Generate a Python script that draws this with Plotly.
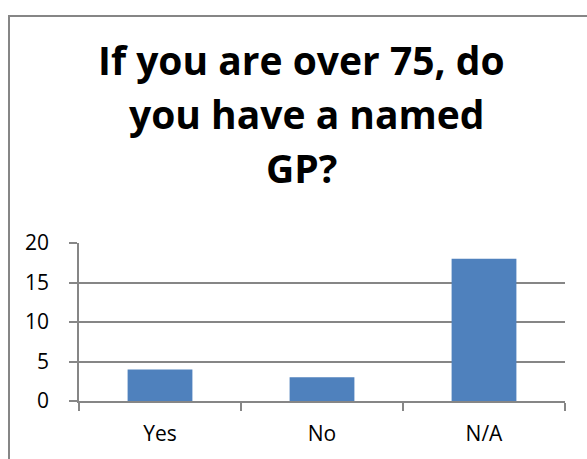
import plotly.graph_objects as go

categories = ["Yes", "No", "N/A"]
values = [4, 3, 18]
y_ticks = [0, 5, 10, 15, 20]
title_lines = ["If you are over 75, do", "you have a named", "GP?"]

W, H = 587, 459
L, R, T, B = 79, 22, 243, 56
pw, ph = W - L - R, H - T - B

def px_x(x):
    return (x - L) / pw

def px_y(y):
    return (H - B - y) / ph

fig = go.Figure(go.Bar(x=categories, y=values, marker=dict(color="#4F81BD", line=dict(width=0))))

grid = "#868686"
title_font = dict(family="Open Sans", size=39, color="black", weight="bold")
title_centers = [(301, 57), (307, 112), (301, 167)]
annotations = []
for line, (cx, cy) in zip(title_lines, title_centers):
    annotations.append(dict(text=line, x=px_x(cx), y=px_y(cy), xref="paper", yref="paper",
                            xanchor="center", yanchor="middle", showarrow=False, font=title_font))

fig.update_layout(
    width=W, height=H,
    margin=dict(l=L, r=R, t=T, b=B, pad=0),
    paper_bgcolor="white", plot_bgcolor="white",
    bargap=0.6,
    showlegend=False,
    annotations=annotations,
    font=dict(family="Open Sans", size=21, color="black"),
    shapes=[dict(type="rect", xref="paper", yref="paper", x0=px_x(9), y0=-1, x1=2, y1=px_y(13),
                 line=dict(color=grid, width=2), fillcolor="rgba(0,0,0,0)", layer="above")],
    xaxis=dict(showline=True, linecolor=grid, linewidth=1.5, ticks="outside", tickson="boundaries",
               ticklen=8, tickcolor=grid, tickwidth=1.5, showgrid=False, ticklabelstandoff=13,
               fixedrange=True),
    yaxis=dict(range=[0, 20], tickvals=y_ticks, showline=True, linecolor=grid, linewidth=1.5,
               ticks="outside", ticklen=8, tickcolor=grid, tickwidth=1.5, showgrid=True,
               gridcolor=grid, gridwidth=1.5, zeroline=False, ticklabelstandoff=16, fixedrange=True),
)

fig.write_html("out.html", config={"displayModeBar": False},
               post_script="document.body.style.margin='0';document.body.style.overflow='hidden';")
